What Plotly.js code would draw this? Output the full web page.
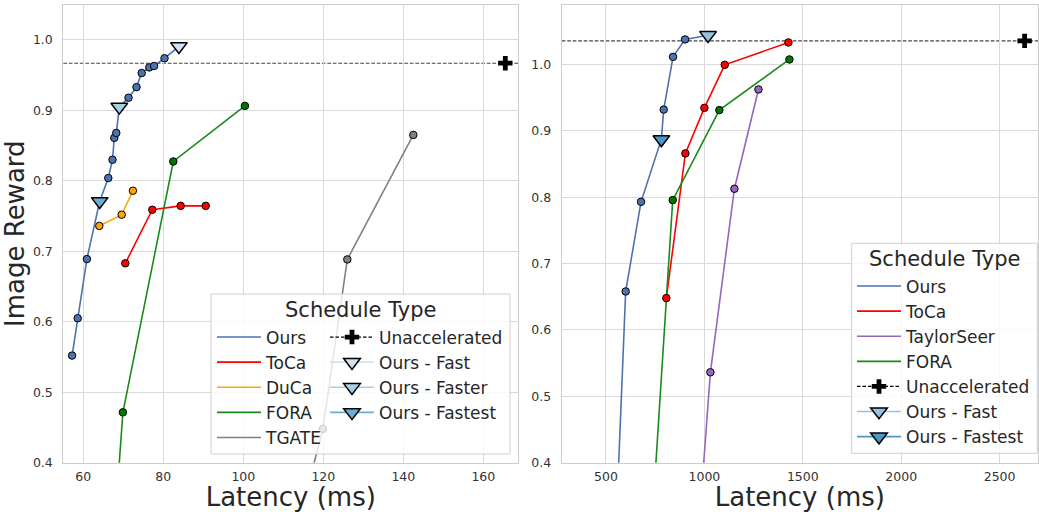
<!DOCTYPE html>
<html>
<head>
<meta charset="utf-8">
<script src="https://cdn.plot.ly/plotly-3.0.1.min.js"></script>
<style>html,body{margin:0;padding:0;background:#fff}#chart{width:1039px;height:512px}</style>
</head>
<body>
<div id="chart"></div>
<script>
// ---------- Left panel data (latency ms, image reward) ----------
const leftOursX = [57.2, 58.6, 60.9, 66.25, 67.3, 67.75, 68.25, 71.3, 73.3, 74.6, 76.5, 77.7, 80.3];
const leftOursY = [0.552, 0.605, 0.689, 0.804, 0.830, 0.861, 0.868, 0.918, 0.933, 0.953, 0.961, 0.963, 0.974];
const leftFastX = [83.9],    leftFastY = [0.991];
const leftFasterX = [69.0],  leftFasterY = [0.905];
const leftFastestX = [64.1], leftFastestY = [0.771];
const leftToCaX = [70.5, 77.25, 84.35, 90.6];
const leftToCaY = [0.683, 0.759, 0.7645, 0.7645];
const leftDuCaX = [64.0, 69.6, 72.4];
const leftDuCaY = [0.736, 0.752, 0.786];
const leftForaX = [67.6, 69.9, 82.5, 100.4];
const leftForaY = [0.29, 0.4715, 0.8275, 0.9064];
const leftTgateX = [114.5, 119.9, 126.0, 142.5];
const leftTgateY = [0.33, 0.448, 0.6885, 0.8652];
const leftUnaccX = [165.5], leftUnaccY = [0.967];

// ---------- Right panel data ----------
const rightOursX = [555, 600, 678, 793.3, 840.7, 901.7];
const rightOursY = [0.33, 0.658, 0.793, 0.932, 1.0114, 1.0377];
const rightFastX = [1018.6],   rightFastY = [1.044];
const rightFastestX = [781.3], rightFastestY = [0.887];
const rightToCaX = [806.7, 903.4, 1000, 1103.5, 1427];
const rightToCaY = [0.648, 0.866, 0.9346, 0.9994, 1.0331];
const rightTaylorX = [979, 1030.5, 1152.5, 1274.6];
const rightTaylorY = [0.33, 0.5362, 0.8127, 0.9623];
const rightForaX = [730, 839, 1076, 1432];
const rightForaY = [0.29, 0.7956, 0.9312, 1.0075];
const rightUnaccX = [2627], rightUnaccY = [1.0355];

const leftXTicks = [60, 80, 100, 120, 140, 160];
const rightXTicks = [500, 1000, 1500, 2000, 2500];
const yTicks = [0.4, 0.5, 0.6, 0.7, 0.8, 0.9, 1.0];

// ---------- helpers ----------
const W = 1039, H = 512;
const px = v => v / W, py = v => (H - v) / H;
const FONT = 'DejaVu Sans, sans-serif';
const TXT = '#262626';
const C = {ours:'#4c72b0', toca:'#ff0000', duca:'#ffa500', fora:'#1a8a1a', foraDot:'#007700',
           tgate:'#808080', taylor:'#9467bd'};

function merged(xsList, ysList) {
  const pts = [];
  xsList.forEach((xs, i) => xs.forEach((x, j) => pts.push([x, ysList[i][j]])));
  pts.sort((a, b) => a[0] - b[0]);
  return {x: pts.map(p => p[0]), y: pts.map(p => p[1])};
}
function lineTrace(name, x, y, color, ax, legend, rank) {
  return {type:'scatter', mode:'lines', name, x, y, xaxis:ax[0], yaxis:ax[1],
          line:{color, width:1.6}, legend, legendrank:rank, hoverinfo:'skip'};
}
function dotTrace(x, y, color, ax) {
  return {type:'scatter', mode:'markers', x, y, xaxis:ax[0], yaxis:ax[1], showlegend:false,
          marker:{color, size:7.5, line:{color:'#000', width:1}}, hoverinfo:'skip'};
}
function triTrace(name, x, y, color, ax, legend, rank) {
  return {type:'scatter', mode:'lines+markers', name, x, y, xaxis:ax[0], yaxis:ax[1],
          legend, legendrank:rank,
          line:{color, width:1.6},
          marker:{symbol:'triangle-down', color, size:14.5, line:{color:'#000', width:1.5}}, hoverinfo:'skip'};
}
function unaccTrace(x, y, ax, legend, rank) {
  return {type:'scatter', mode:'lines+markers', name:'Unaccelerated', x, y, xaxis:ax[0], yaxis:ax[1],
          legend, legendrank:rank,
          line:{color:'#000', width:1.2, dash:'3.5px,2px'},
          marker:{symbol:'cross', color:'#000', size:12}, hoverinfo:'skip'};
}

const L = ['x', 'y'], R = ['x2', 'y2'];
const lOursLine = merged([leftOursX, leftFastX, leftFasterX, leftFastestX], [leftOursY, leftFastY, leftFasterY, leftFastestY]);
const rOursLine = merged([rightOursX, rightFastX, rightFastestX], [rightOursY, rightFastY, rightFastestY]);

const data = [
  // left lines
  lineTrace('Ours', lOursLine.x, lOursLine.y, C.ours, L, 'legend', 1),
  lineTrace('ToCa', leftToCaX, leftToCaY, C.toca, L, 'legend', 2),
  lineTrace('DuCa', leftDuCaX, leftDuCaY, C.duca, L, 'legend', 3),
  lineTrace('FORA', leftForaX, leftForaY, C.fora, L, 'legend', 4),
  lineTrace('TGATE', leftTgateX, leftTgateY, C.tgate, L, 'legend', 5),
  dotTrace(leftOursX, leftOursY, C.ours, L),
  dotTrace(leftToCaX, leftToCaY, C.toca, L),
  dotTrace(leftDuCaX, leftDuCaY, C.duca, L),
  dotTrace(leftForaX, leftForaY, C.foraDot, L),
  dotTrace(leftTgateX, leftTgateY, C.tgate, L),
  unaccTrace(leftUnaccX, leftUnaccY, L, 'legend2', 1),
  triTrace('Ours - Fast', leftFastX, leftFastY, '#cfe1f2', L, 'legend2', 2),
  triTrace('Ours - Faster', leftFasterX, leftFasterY, '#a9cfe5', L, 'legend2', 3),
  triTrace('Ours - Fastest', leftFastestX, leftFastestY, '#6aaed6', L, 'legend2', 4),
  // right lines
  lineTrace('Ours', rOursLine.x, rOursLine.y, C.ours, R, 'legend3', 1),
  lineTrace('ToCa', rightToCaX, rightToCaY, C.toca, R, 'legend3', 2),
  lineTrace('TaylorSeer', rightTaylorX, rightTaylorY, C.taylor, R, 'legend3', 3),
  lineTrace('FORA', rightForaX, rightForaY, C.fora, R, 'legend3', 4),
  dotTrace(rightOursX, rightOursY, C.ours, R),
  dotTrace(rightToCaX, rightToCaY, C.toca, R),
  dotTrace(rightTaylorX, rightTaylorY, C.taylor, R),
  dotTrace(rightForaX, rightForaY, C.foraDot, R),
  unaccTrace(rightUnaccX, rightUnaccY, R, 'legend3', 5),
  triTrace('Ours - Fast', rightFastX, rightFastY, '#94c4df', R, 'legend3', 6),
  triTrace('Ours - Fastest', rightFastestX, rightFastestY, '#4a98c9', R, 'legend3', 7),
];

const GRID = '#dadada';
function xAxis(domain, range, ticks) {
  return {domain, range, tickvals:ticks, ticktext:ticks.map(String), showgrid:true, gridcolor:GRID, gridwidth:1,
          zeroline:false, showline:true, linecolor:'#cccccc', linewidth:1, mirror:true, ticks:'',
          ticklabelstandoff:2, tickfont:{family:FONT, size:12.5, color:'#333'},
          title:{text:'Latency (ms)', font:{family:FONT, size:26, color:TXT}, standoff:5}};
}
function yAxis(domain, range, title) {
  const a = {domain, range, tickvals:yTicks, ticktext:yTicks.map(v => v.toFixed(1)), showgrid:true, gridcolor:GRID, gridwidth:1,
          zeroline:false, showline:true, linecolor:'#cccccc', linewidth:1, mirror:true, ticks:'',
          ticklabelstandoff:7, tickfont:{family:FONT, size:12.5, color:'#333'}};
  if (title) a.title = {text:title, font:{family:FONT, size:26, color:TXT}, standoff:1};
  return a;
}
const yDom = [py(462.7), py(4.7)];
const legFont = {family:FONT, size:17, color:TXT};
function leg(x, y) {
  return {x:px(x), y:py(y), xanchor:'left', yanchor:'top', xref:'paper', yref:'paper',
          bgcolor:'rgba(0,0,0,0)', borderwidth:0, font:legFont, itemwidth:44, traceorder:'normal',
          tracegroupgap:0, itemclick:false, itemdoubleclick:false};
}
function box(x0, y0, x1, y1) {
  return {type:'rect', xref:'paper', yref:'paper', x0:px(x0), x1:px(x1), y0:py(y1), y1:py(y0),
          line:{color:'#d0d0d0', width:1}, fillcolor:'rgba(255,255,255,0.8)', layer:'above'};
}

const layout = {
  width:W, height:H, margin:{l:0, r:0, t:0, b:0}, paper_bgcolor:'#fff', plot_bgcolor:'#fff',
  font:{family:FONT, color:TXT}, showlegend:true,
  xaxis: xAxis([px(63.3), px(518.3)], [55, 168.75], leftXTicks),
  yaxis: yAxis(yDom, [0.4, 1.05], 'Image Reward'),
  xaxis2: Object.assign(xAxis([px(561.7), px(1038)], [275, 2695], rightXTicks), {anchor:'y2'}),
  yaxis2: Object.assign(yAxis(yDom, [0.4, 1.09], null), {anchor:'x2'}),
  legend: leg(212, 319.5),
  legend2: leg(325, 319.5),
  legend3: leg(852, 268.5),
  shapes: [
    {type:'line', xref:'x domain', yref:'y', x0:0, x1:1, y0:leftUnaccY[0], y1:leftUnaccY[0],
     line:{color:'#444', width:1.1, dash:'3.7px,1.8px'}, layer:'below'},
    {type:'line', xref:'x2 domain', yref:'y2', x0:0, x1:1, y0:rightUnaccY[0], y1:rightUnaccY[0],
     line:{color:'#444', width:1.1, dash:'3.7px,1.8px'}, layer:'below'},
    box(211, 294, 510, 454),
    box(851.7, 243.3, 1037.3, 453.3),
  ],
  annotations: [
    {text:'Schedule Type', xref:'paper', yref:'paper', x:px(360.5), y:py(310), xanchor:'center', yanchor:'middle',
     showarrow:false, font:{family:FONT, size:21, color:TXT}},
    {text:'Schedule Type', xref:'paper', yref:'paper', x:px(944.5), y:py(259.3), xanchor:'center', yanchor:'middle',
     showarrow:false, font:{family:FONT, size:21, color:TXT}},
  ],
};

Plotly.newPlot('chart', data, layout, {staticPlot:true, displayModeBar:false});
</script>
</body>
</html>
